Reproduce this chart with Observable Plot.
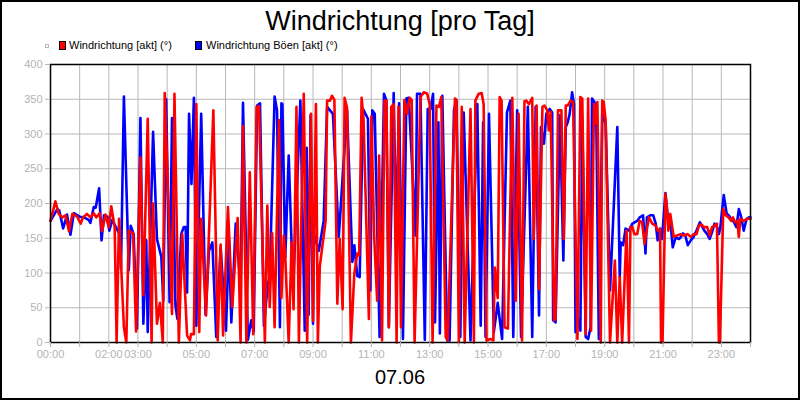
<!DOCTYPE html>
<html><head><meta charset="utf-8">
<script src="https://cdn.jsdelivr.net/npm/d3@7"></script>
<script src="https://cdn.jsdelivr.net/npm/@observablehq/plot@0.6"></script>
<style>
body{margin:0;background:#fff;font-family:"Liberation Sans",Arial,sans-serif;}
#wrap{position:relative;width:800px;height:400px;overflow:hidden;background:#fff;}
#border{position:absolute;left:0;top:0;width:800px;height:400px;box-sizing:border-box;border:2px solid #000;pointer-events:none;}
#title{position:absolute;left:0;width:800px;top:5px;text-align:center;font-size:27px;line-height:32px;color:#000;white-space:nowrap;}
.lt{position:absolute;top:38px;font-size:11px;line-height:14px;color:#000;white-space:nowrap;}
.sw{position:absolute;top:41px;width:5px;height:7px;border:1px solid #000;}
#chart{position:absolute;left:0;top:50px;}
#date{position:absolute;left:0;width:800px;top:365px;text-align:center;font-size:20px;line-height:24px;color:#000;}
</style></head>
<body>
<div id="wrap">
  <div id="title">Windrichtung [pro Tag]</div>
  <div style="position:absolute;left:45px;top:44px;width:2px;height:2px;border:1px solid #bbb;"></div>
  <div class="sw" style="left:59px;background:#ff0000;"></div>
  <div class="lt" style="left:69px;">Windrichtung [akt] (°)</div>
  <div class="sw" style="left:195px;background:#0000ff;"></div>
  <div class="lt" style="left:206px;">Windrichtung Böen [akt] (°)</div>
  <div id="chart"></div>
  <div id="date">07.06</div>
  <div id="border"></div>
</div>
<script>
// time of day in minutes, values in degrees
const redMinutes = [
  0,10,17,24,31,38,45,55,62,67,
  75,82,89,94,101,106,113,120,125,132,
  136,141,151,156,161,170,176,185,191,200,
  208,211,219,225,231,235,250,255,264,271,
  281,287,289,295,300,306,310,320,335,344,
  350,355,365,374,385,391,396,403,410,417,
  424,429,441,446,451,456,461,470,475,480,
  483,490,496,500,506,511,521,528,536,540,
  546,550,554,566,569,575,579,584,590,595,
  601,605,610,618,625,631,635,640,644,655,
  660,666,672,676,682,687,691,696,701,706,
  712,716,721,728,734,739,743,749,761,768,
  775,780,786,794,799,804,813,817,832,835,
  840,846,852,864,871,874,881,887,891,897,
  905,911,914,920,924,928,934,941,950,957,
  963,970,975,979,984,991,994,1000,1005,1012,
  1016,1022,1025,1029,1036,1039,1044,1051,1056,1060,
  1064,1070,1075,1084,1090,1094,1101,1106,1112,1118,
  1121,1125,1132,1135,1138,1142,1151,1161,1166,1171,
  1176,1185,1190,1193,1197,1201,1207,1212,1217,1222,
  1231,1238,1245,1249,1254,1256,1259,1265,1269,1271,
  1275,1282,1289,1296,1303,1310,1317,1323,1329,1334,
  1339,1344,1351,1356,1361,1366,1371,1375,1377,1384,
  1389,1395,1400,1404,1408,1413,1416,1419,1426,1433,
  1440];
const redValues = [
  175,203,185,180,183,160,185,181,171,180,
  185,180,186,180,186,160,184,166,196,166,
  0,178,22,0,161,157,16,266,68,322,
  0,200,27,57,0,359,41,358,0,156,
  10,3,12,12,343,15,178,39,334,3,
  141,10,195,51,179,0,311,0,245,12,
  339,340,0,197,51,157,22,320,64,154,
  123,0,144,48,339,0,358,0,329,31,
  343,0,110,175,348,348,355,349,56,149,
  48,352,338,0,99,128,125,352,320,34,
  325,150,60,269,3,348,348,22,339,343,
  0,339,22,349,329,352,349,0,353,360,
  358,343,0,341,339,353,8,3,351,349,
  0,339,0,336,0,348,358,359,343,3,
  5,3,108,64,353,348,22,20,352,60,
  329,3,347,348,343,352,149,341,77,339,
  341,334,305,332,32,34,334,334,149,341,
  341,348,346,5,353,351,12,351,17,343,
  315,346,0,348,346,320,0,118,0,94,
  0,161,0,166,166,156,156,175,173,142,
  180,171,168,161,163,0,0,214,185,161,
  185,152,154,156,154,156,152,156,156,168,
  170,166,166,154,166,168,171,0,0,192,
  183,180,175,180,173,175,152,178,175,178,
  178];
const blueMinutes = [
  0,14,18,26,34,41,48,60,69,79,
  82,89,93,100,105,110,117,121,127,142,
  145,151,161,165,171,178,185,191,197,200,
  211,219,228,232,238,245,250,257,261,269,
  274,278,281,285,290,295,300,310,319,326,
  333,341,350,361,367,372,381,391,396,406,
  413,418,425,431,439,447,451,461,466,472,
  475,477,483,490,499,514,523,527,531,535,
  540,542,552,562,569,575,581,593,610,621,
  625,631,636,643,653,658,662,667,677,686,
  691,696,706,711,717,725,732,737,751,754,
  761,770,776,782,787,791,798,801,806,816,
  821,830,835,843,850,864,878,885,890,895,
  902,912,920,929,939,946,952,960,968,982,
  991,998,1005,1009,1015,1020,1027,1032,1034,1039,
  1048,1055,1060,1064,1068,1073,1077,1080,1087,1090,
  1094,1101,1106,1111,1114,1119,1123,1128,1135,1142,
  1151,1166,1171,1173,1178,1183,1190,1197,1207,1212,
  1219,1224,1227,1234,1240,1245,1249,1254,1258,1265,
  1272,1275,1280,1286,1293,1296,1301,1306,1311,1317,
  1322,1329,1336,1341,1345,1351,1356,1361,1366,1371,
  1375,1378,1385,1391,1395,1400,1406,1411,1416,1421,
  1426,1432,1437,1440];
const blueValues = [
  175,192,190,164,184,155,186,181,180,176,
  172,195,194,222,147,183,181,161,176,156,
  106,354,104,168,156,20,323,27,147,15,
  303,149,123,60,350,58,323,53,34,156,
  166,166,72,329,228,352,24,329,40,132,
  144,8,137,17,149,29,171,80,345,4,
  32,16,341,344,24,84,94,354,334,22,
  344,343,123,269,75,348,17,280,40,327,
  27,156,132,175,339,334,329,152,334,116,
  140,96,94,336,322,75,334,329,8,358,
  348,22,359,150,344,5,351,352,154,358,
  358,4,336,336,358,29,317,13,355,3,
  3,334,349,8,331,3,343,24,317,8,
  329,15,57,5,331,348,8,334,8,339,
  8,339,39,310,286,329,336,331,32,29,
  327,118,310,317,329,360,343,15,32,17,
  319,8,5,22,351,346,310,5,329,315,
  75,310,94,144,140,164,161,171,175,180,
  183,128,180,183,183,171,147,164,149,215,
  166,176,137,151,149,151,157,154,140,147,
  151,161,173,166,161,156,149,159,171,166,
  156,166,212,185,183,178,173,166,192,180,
  161,178,180,180];

const labelHours = [0,2,3,5,7,9,11,13,15,17,19,21,23];
const hourTicks = d3.range(0, 25).map(h => h * 60);
const yTicks = [0,50,100,150,200,250,300,350,400];

const redData = redMinutes.map((m, i) => ({m, v: redValues[i]}));
const blueData = blueMinutes.map((m, i) => ({m, v: blueValues[i]}));
const fmt = m => labelHours.includes(m / 60) ? String(m / 60).padStart(2, "0") + ":00" : "";

const chart = Plot.plot({
  width: 800, height: 320,
  marginLeft: 50, marginRight: 50, marginTop: 14, marginBottom: 28,
  style: {background: "transparent", fontFamily: "Liberation Sans, Arial, sans-serif", fontSize: "11px", overflow: "visible"},
  x: {type: "linear", domain: [0, 1440], label: null},
  y: {domain: [0, 400], label: null},
  marks: [
    Plot.gridX({ticks: hourTicks, stroke: "#b8b8b8", strokeOpacity: 1}),
    Plot.gridY({ticks: yTicks, stroke: "#b8b8b8", strokeOpacity: 1}),
    Plot.line(blueData, {x: "m", y: "v", stroke: "#0000ff", strokeWidth: 2.6}),
    Plot.line(redData, {x: "m", y: "v", stroke: "#ff0000", strokeWidth: 2.6}),
    Plot.frame({stroke: "#000", strokeWidth: 1.5}),
    Plot.axisX({ticks: hourTicks, tickSize: 5, tickPadding: 3, tickFormat: fmt, color: "#b4b4b4", fontSize: 11, label: null}),
    Plot.axisY({ticks: yTicks, tickSize: 5, tickPadding: 3, color: "#b4b4b4", fontSize: 11, label: null})
  ]
});
document.getElementById("chart").appendChild(chart);
</script>
</body></html>
